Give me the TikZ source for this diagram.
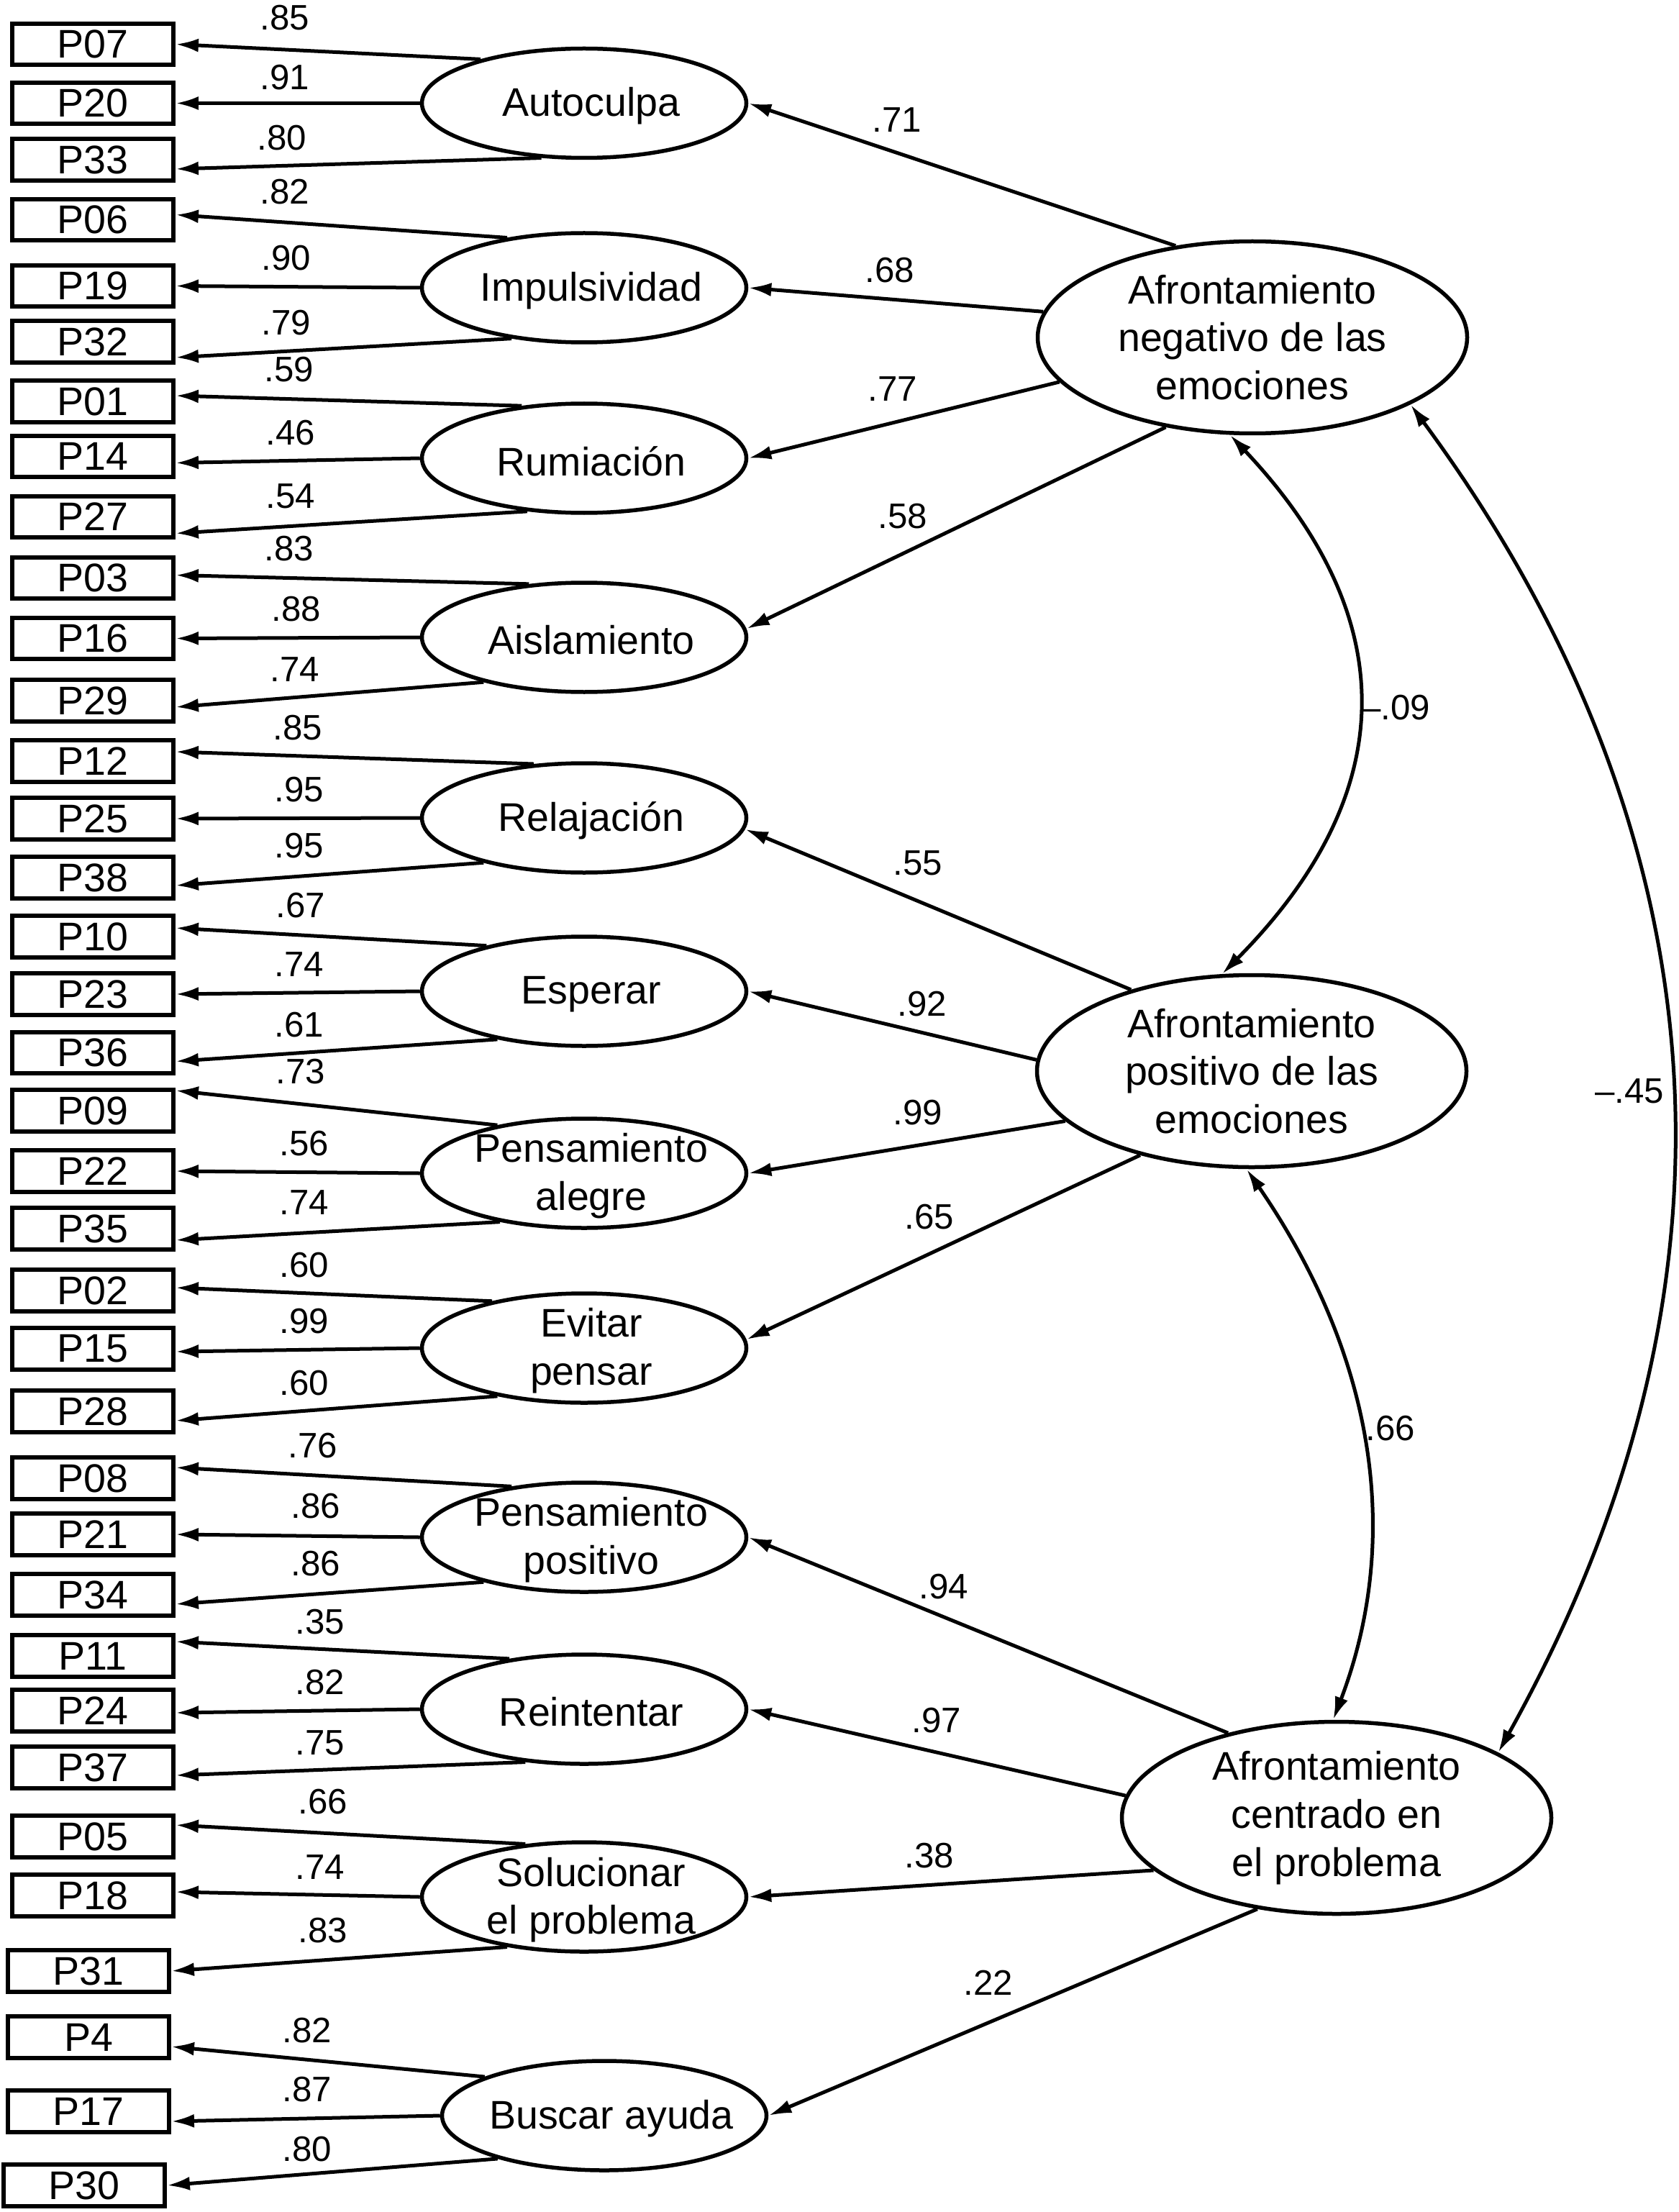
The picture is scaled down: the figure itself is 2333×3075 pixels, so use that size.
\documentclass[tikz,border=0pt]{standalone}
\usepackage{fontspec}
\setmainfont{Liberation Sans}
\usetikzlibrary{arrows.meta,shapes.geometric}
\begin{document}
\begin{tikzpicture}[x=0.1mm, y=-0.1mm,
 obs/.style={draw, line width=0.58mm, rectangle, minimum width=22.4mm, minimum height=5.75mm, inner sep=0pt, font=\fontsize{15.8}{19}\selectfont},
 lat/.style={draw, line width=0.55mm, ellipse, minimum width=45.1mm, minimum height=15.2mm, inner sep=0pt},
 bigl/.style={draw, line width=0.55mm, ellipse, minimum width=59.7mm, minimum height=26.7mm, inner sep=0pt},
 txt/.style={align=center, font=\fontsize{15.8}{19}\selectfont, inner sep=0pt},
 stxt/.style={txt, xshift=1mm, yshift=-0.4mm},
 lbl/.style={font=\fontsize{14}{16}\selectfont, inner sep=0pt},
 ind/.style={line width=0.5mm, -{Latex[length=3.2mm,width=1.9mm]}},
 strc/.style={line width=0.5mm, -{Latex[length=3.2mm,width=1.9mm]}},
 cov/.style={line width=0.5mm, {Latex[length=3.2mm,width=1.9mm]}-{Latex[length=3.2mm,width=1.9mm]}}
]
\useasboundingbox (0,0) rectangle (2333,3075);

% observed boxes
\node[obs] (p07) at (129,61.5) {P07};
\node[obs] (p20) at (129,143.5) {P20};
\node[obs] (p33) at (129,222) {P33};
\node[obs] (p06) at (129,305.5) {P06};
\node[obs] (p19) at (129,397.5) {P19};
\node[obs] (p32) at (129,475) {P32};
\node[obs] (p01) at (129,558) {P01};
\node[obs] (p14) at (129,634.5) {P14};
\node[obs] (p27) at (129,718.5) {P27};
\node[obs] (p03) at (129,803.5) {P03};
\node[obs] (p16) at (129,887.5) {P16};
\node[obs] (p29) at (129,974) {P29};
\node[obs] (p12) at (129,1058) {P12};
\node[obs] (p25) at (129,1138) {P25};
\node[obs] (p38) at (129,1220) {P38};
\node[obs] (p10) at (129,1302) {P10};
\node[obs] (p23) at (129,1382) {P23};
\node[obs] (p36) at (129,1463.5) {P36};
\node[obs] (p09) at (129,1544) {P09};
\node[obs] (p22) at (129,1628) {P22};
\node[obs] (p35) at (129,1708) {P35};
\node[obs] (p02) at (129,1794) {P02};
\node[obs] (p15) at (129,1875) {P15};
\node[obs] (p28) at (129,1962) {P28};
\node[obs] (p08) at (129,2055) {P08};
\node[obs] (p21) at (129,2133) {P21};
\node[obs] (p34) at (129,2217) {P34};
\node[obs] (p11) at (129,2302) {P11};
\node[obs] (p24) at (129,2378) {P24};
\node[obs] (p37) at (129,2457) {P37};
\node[obs] (p05) at (129,2553) {P05};
\node[obs] (p18) at (129,2635) {P18};
\node[obs] (p31) at (123,2740) {P31};
\node[obs] (p4)  at (123,2832) {P4};
\node[obs] (p17) at (123,2935) {P17};
\node[obs] (p30) at (117,3038) {P30};

% first-order factors
\node[lat] (auto) at (812,143.5) {};
\node[stxt] (tauto) at (auto) {Autoculpa};
\node[lat] (imp) at (812,400) {};
\node[stxt] (timp) at (imp) {Impulsividad};
\node[lat] (rum) at (812,637) {};
\node[stxt] (trum) at (rum) {Rumiación};
\node[lat] (ais) at (812,886) {};
\node[stxt] (tais) at (ais) {Aislamiento};
\node[lat] (rel) at (812,1137) {};
\node[stxt] (trel) at (rel) {Relajación};
\node[lat] (esp) at (812,1378) {};
\node[stxt] (tesp) at (esp) {Esperar};
\node[lat] (pal) at (812,1631) {};
\node[stxt] (tpal) at (pal) {Pensamiento\\alegre};
\node[lat] (evi) at (812,1874) {};
\node[stxt] (tevi) at (evi) {Evitar\\pensar};
\node[lat] (ppo) at (812,2137) {};
\node[stxt] (tppo) at (ppo) {Pensamiento\\positivo};
\node[lat] (rei) at (812,2376) {};
\node[stxt] (trei) at (rei) {Reintentar};
\node[lat] (sol) at (812,2637) {};
\node[stxt] (tsol) at (sol) {Solucionar\\el problema};
\node[lat] (bus) at (840,2941) {};
\node[stxt] (tbus) at (bus) {Buscar ayuda};

% second-order factors
\node[bigl] (neg) at (1741,469) {};
\node[txt] (tneg) at (neg) {Afrontamiento\\negativo de las\\emociones};
\node[bigl] (pos) at (1740,1489) {};
\node[txt] (tpos) at (pos) {Afrontamiento\\positivo de las\\emociones};
\node[bigl] (cen) at (1858,2527) {};
\node[txt] (tcen) at (cen) {Afrontamiento\\centrado en\\el problema};

% indicator loadings
\draw[ind] (auto.157) -- (p07.east);
\draw[ind] (auto.180) -- (p20.east);
\draw[ind] (auto.232) -- ([yshift=-1.3mm]p33.east);
\draw[ind] (imp.147) -- ([yshift=0.7mm]p06.east);
\draw[ind] (imp.180) -- (p19.east);
\draw[ind] (imp.215) -- ([yshift=-2.2mm]p32.east);
\draw[ind] (rum.140) -- ([yshift=0.8mm]p01.east);
\draw[ind] (rum.180) -- ([yshift=-0.9mm]p14.east);
\draw[ind] (rum.223) -- ([yshift=-2.3mm]p27.east);
\draw[ind] (ais.136) -- ([yshift=0.4mm]p03.east);
\draw[ind] (ais.180) -- (p16.east);
\draw[ind] (ais.204) -- ([yshift=-0.9mm]p29.east);
\draw[ind] (rel.133) -- ([yshift=1.3mm]p12.east);
\draw[ind] (rel.180) -- (p25.east);
\draw[ind] (rel.204) -- ([yshift=-1.1mm]p38.east);
\draw[ind] (esp.155) -- ([yshift=1.2mm]p10.east);
\draw[ind] (esp.180) -- (p23.east);
\draw[ind] (esp.209) -- ([yshift=-1.2mm]p36.east);
\draw[ind] (pal.151) -- ([yshift=2.8mm]p09.east);
\draw[ind] (pal.180) -- (p22.east);
\draw[ind] (pal.210) -- ([yshift=-1.6mm]p35.east);
\draw[ind] (evi.153) -- ([yshift=0.4mm]p02.east);
\draw[ind] (evi.180) -- ([yshift=-0.4mm]p15.east);
\draw[ind] (evi.209) -- ([yshift=-1.3mm]p28.east);
\draw[ind] (ppo.145) -- ([yshift=1.5mm]p08.east);
\draw[ind] (ppo.180) -- (p21.east);
\draw[ind] (ppo.204) -- ([yshift=-1.3mm]p34.east);
\draw[ind] (rei.146) -- ([yshift=2.0mm]p11.east);
\draw[ind] (rei.180) -- ([yshift=-0.3mm]p24.east);
\draw[ind] (rei.222) -- ([yshift=-1.1mm]p37.east);
\draw[ind] (sol.138) -- ([yshift=1.6mm]p05.east);
\draw[ind] (sol.180) -- ([yshift=0.5mm]p18.east);
\draw[ind] (sol.213) -- (p31.east);
\draw[ind] (bus.162) -- ([yshift=-1.3mm]p4.east);
\draw[ind] (bus.180) -- ([yshift=-1.4mm]p17.east);
\draw[ind] (bus.202) -- (p30.east);

% indicator loading labels
\node[lbl] (l01) at (396,25) {.85};
\node[lbl] (l02) at (396,108) {.91};
\node[lbl] (l03) at (392,192) {.80};
\node[lbl] (l04) at (396,267) {.82};
\node[lbl] (l05) at (398,359) {.90};
\node[lbl] (l06) at (398,449) {.79};
\node[lbl] (l07) at (402,514) {.59};
\node[lbl] (l08) at (404,602) {.46};
\node[lbl] (l09) at (404,690) {.54};
\node[lbl] (l10) at (402,763) {.83};
\node[lbl] (l11) at (412,847) {.88};
\node[lbl] (l12) at (410,931) {.74};
\node[lbl] (l13) at (414,1012) {.85};
\node[lbl] (l14) at (416,1098) {.95};
\node[lbl] (l15) at (416,1176) {.95};
\node[lbl] (l16) at (418,1259) {.67};
\node[lbl] (l17) at (416,1341) {.74};
\node[lbl] (l18) at (416,1425) {.61};
\node[lbl] (l19) at (418,1490) {.73};
\node[lbl] (l20) at (423,1590) {.56};
\node[lbl] (l21) at (423,1672) {.74};
\node[lbl] (l22) at (423,1759) {.60};
\node[lbl] (l23) at (423,1837) {.99};
\node[lbl] (l24) at (423,1923) {.60};
\node[lbl] (l25) at (435,2010) {.76};
\node[lbl] (l26) at (439,2094) {.86};
\node[lbl] (l27) at (439,2174) {.86};
\node[lbl] (l28) at (445,2255) {.35};
\node[lbl] (l29) at (445,2339) {.82};
\node[lbl] (l30) at (445,2423) {.75};
\node[lbl] (l31) at (449,2505) {.66};
\node[lbl] (l32) at (445,2596) {.74};
\node[lbl] (l33) at (449,2684) {.83};
\node[lbl] (l34) at (427,2823) {.82};
\node[lbl] (l35) at (427,2905) {.87};
\node[lbl] (l36) at (427,2988) {.80};

% structural paths
\draw[strc] (neg.130) -- (auto.east);
\draw[strc] (neg.173) -- (imp.east);
\draw[strc] (neg.193) -- (rum.east);
\draw[strc] (neg.226) -- (ais.3);
\draw[strc] (pos.146) -- (rel.-4);
\draw[strc] (pos.177) -- (esp.east);
\draw[strc] (pos.195) -- (pal.east);
\draw[strc] (pos.217) -- (evi.3);
\draw[strc] (cen.142) -- (ppo.east);
\draw[strc] (cen.174) -- (rei.east);
\draw[strc] (cen.196) -- (sol.east);
\draw[strc] (cen.229) -- (bus.east);

\node[lbl] (s01) at (1247,167) {.71};
\node[lbl] (s02) at (1237,376) {.68};
\node[lbl] (s03) at (1241,541) {.77};
\node[lbl] (s04) at (1255,718) {.58};
\node[lbl] (s05) at (1276,1200) {.55};
\node[lbl] (s06) at (1282,1396) {.92};
\node[lbl] (s07) at (1276,1547) {.99};
\node[lbl] (s08) at (1292,1692) {.65};
\node[lbl] (s09) at (1312,2206) {.94};
\node[lbl] (s10) at (1302,2392) {.97};
\node[lbl] (s11) at (1292,2580) {.38};
\node[lbl] (s12) at (1374,2756) {.22};

% covariances
\draw[cov] (neg.257) .. controls +(240,254) and +(250,-252) .. (pos.107);
\draw[cov] (pos.267) .. controls +(187,272) and +(92,-241) .. (cen.92);
\draw[cov] (neg.337) .. controls +(381,517) and +(406,-729) .. (cen.22);

\node[lbl] (c01) at (1940,984) {–.09};
\node[lbl] (c02) at (1933,1986) {.66};
\node[lbl] (c03) at (2265,1517) {–.45};
\end{tikzpicture}
\end{document}
